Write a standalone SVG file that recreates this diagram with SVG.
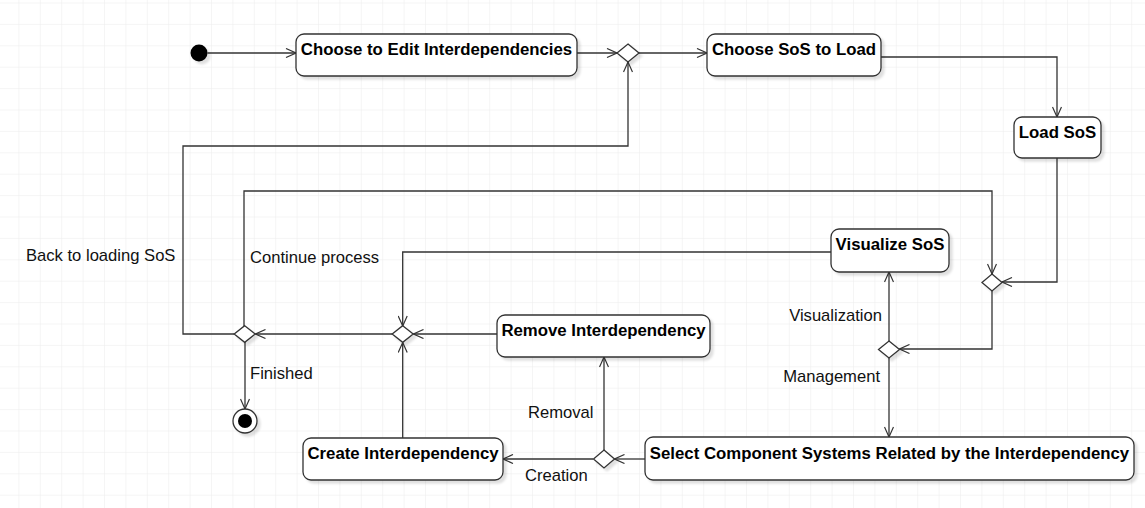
<svg xmlns="http://www.w3.org/2000/svg" width="1145" height="508" viewBox="0 0 1145 508">
<defs>
<pattern id="grid" x="-3" y="2.5" width="21.4" height="21.4" patternUnits="userSpaceOnUse">
<path d="M0,0 H21.4 M0,0 V21.4" fill="none" stroke="#ececec" stroke-width="1"/>
</pattern>
<filter id="sh" x="-20%" y="-20%" width="150%" height="160%">
<feDropShadow dx="3" dy="3" stdDeviation="1.2" flood-color="#000" flood-opacity="0.12"/>
</filter>
<marker id="arr" markerWidth="12" markerHeight="10" refX="11" refY="5" orient="auto" markerUnits="userSpaceOnUse">
<path d="M1,0.5 L11,5 L1,9.5" fill="none" stroke="#333" stroke-width="1.2"/>
</marker>
</defs>
<style>
.box{fill:#fff;stroke:#333;stroke-width:1.3;filter:url(#sh)}
.dia{fill:#fff;stroke:#333;stroke-width:1.3;filter:url(#sh)}
.t{font-family:"Liberation Sans",Arial,sans-serif;font-weight:bold;font-size:16.8px;fill:#000;text-anchor:middle}
.lbl{font-family:"Liberation Sans",Arial,sans-serif;font-size:16.6px;fill:#111}
.c{fill:none;stroke:#333;stroke-width:1.3;marker-end:url(#arr)}
</style>
<rect width="1145" height="508" fill="#fff"/>
<rect width="1145" height="508" fill="url(#grid)"/>

<g id="connectors">
<path class="c" d="M207.5,53 H296"/>
<path class="c" d="M577,53 H617"/>
<path class="c" d="M639,53 H707"/>
<path class="c" d="M881,57 H1057 V117"/>
<path class="c" d="M1057,158 V282 H1002"/>
<path class="c" d="M244,326 V191 H992 V274"/>
<path class="c" d="M234,334 H183 V146 H628 V62"/>
<path class="c" d="M245,342 V409"/>
<path class="c" d="M392.5,334 H255.5"/>
<path class="c" d="M497,334 H413.5"/>
<path class="c" d="M831,252 H402.7 V326"/>
<path class="c" d="M402.7,438 V342.5"/>
<path class="c" d="M992,291 V349 H899.5"/>
<path class="c" d="M889,341 V272"/>
<path class="c" d="M889,358 V437"/>
<path class="c" d="M645,459 H614.5"/>
<path class="c" d="M593,459 H503"/>
<path class="c" d="M604,450 V357"/>
</g>

<g id="start"><circle cx="199" cy="53" r="8.5" fill="#000" filter="url(#sh)"/></g>
<g id="end">
<circle cx="245" cy="421" r="12" fill="#fff" stroke="#333" stroke-width="1.3" filter="url(#sh)"/>
<circle cx="245" cy="421" r="7" fill="#000"/>
</g>

<g id="n-choose-edit"><rect class="box" x="296" y="34" width="281" height="42" rx="8"/><text class="t" x="436.5" y="54.5">Choose to Edit Interdependencies</text></g>
<g id="d1"><path class="dia" d="M628,44 L639,53 L628,62 L617,53 Z"/></g>
<g id="n-choose-sos"><rect class="box" x="707" y="34" width="174" height="42" rx="8"/><text class="t" x="794" y="54.5">Choose SoS to Load</text></g>
<g id="n-load"><rect class="box" x="1014" y="117" width="87" height="41" rx="8"/><text class="t" x="1057.5" y="137.5">Load SoS</text></g>
<g id="d3"><path class="dia" d="M992,274 L1002,282.5 L992,291 L982,282.5 Z"/></g>
<g id="n-visualize"><rect class="box" x="831" y="229" width="118" height="43" rx="8"/><text class="t" x="890" y="249.5">Visualize SoS</text></g>
<g id="d6"><path class="dia" d="M889,341 L899.5,349.5 L889,358 L878.5,349.5 Z"/></g>
<g id="n-remove"><rect class="box" x="497" y="315" width="213" height="42" rx="8"/><text class="t" x="603.5" y="335.5">Remove Interdependency</text></g>
<g id="d5"><path class="dia" d="M402.7,325.7 L413.2,334 L402.7,342.3 L392.2,334 Z"/></g>
<g id="d4"><path class="dia" d="M244.7,325.7 L255.2,334 L244.7,342.3 L234.2,334 Z"/></g>
<g id="n-create"><rect class="box" x="303" y="438" width="200" height="42" rx="8"/><text class="t" x="403" y="458.5">Create Interdependency</text></g>
<g id="d7"><path class="dia" d="M604,450 L614.5,459 L604,468 L593.5,459 Z"/></g>
<g id="n-select"><rect class="box" x="645" y="437" width="489" height="43" rx="8"/><text class="t" x="889.5" y="458.5">Select Component Systems Related by the Interdependency</text></g>

<g id="labels">
<text class="lbl" x="26" y="261">Back to loading SoS</text>
<text class="lbl" x="250" y="263">Continue process</text>
<text class="lbl" x="250" y="379">Finished</text>
<text class="lbl" x="882" y="321" text-anchor="end">Visualization</text>
<text class="lbl" x="880" y="382" text-anchor="end">Management</text>
<text class="lbl" x="528" y="418">Removal</text>
<text class="lbl" x="525" y="481">Creation</text>
</g>
</svg>
